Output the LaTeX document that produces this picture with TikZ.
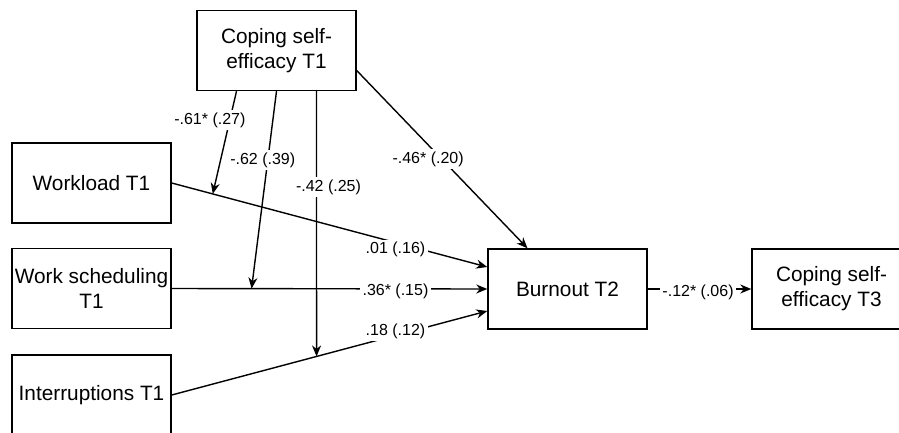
\documentclass[tikz,border=0pt]{standalone}
\usepackage{fontspec}
\setmainfont{Liberation Sans}
\usetikzlibrary{arrows.meta}
\tikzset{>={Stealth[length=11pt, width=9pt, inset=3.5pt]}}
\tikzset{
    box/.style={draw, line width=1.4pt, minimum width=159pt, minimum height=80pt, inner sep=1pt, align=center, font=\fontsize{20.8}{25}\selectfont},
    coef/.style={fill=white, inner sep=2.5pt, font=\fontsize{16}{18}\selectfont},
    link/.style={line width=1.4pt, ->}
}

\begin{document}
\begin{tikzpicture}[x=1pt, y=-1pt]
    \useasboundingbox(0, 0) rectangle (899, 432);
    \clip(0, 0) rectangle (899, 432);
    % boxes
    \node[box](cse1) at (276.5, 50.5){Coping self-\\efficacy T1};
    \node[box](workload) at (91.5, 183){Workload T1};
    \node[box](worksch) at (91.5, 288.5){Work scheduling\\T1};
    \node[box](interr) at (91.5, 395){Interruptions T1};
    \node[box](burnout) at (567.5, 289){Burnout T2};
    \node[box](cse3) at (831.5, 289){Coping self-\\efficacy T3};
    % main effects
    \draw[link](workload.east)-- node[coef, pos=.709, yshift=-7pt]{.01 (.16)} coordinate[pos=.13](m1) ([yshift=22pt]burnout.west);
    \draw[link](worksch.east)-- node[coef, pos=.709, yshift=-2pt]{.36* (.15)} coordinate[pos=.253](m2) (burnout.west);
    \draw[link](interr.east)-- node[coef, pos=.709, yshift=4pt]{.18 (.12)} coordinate[pos=.459](m3) ([yshift=-22pt]burnout.west);
    \draw[link]([yshift=-20pt]cse1.east)-- node[coef, pos=.5, xshift=-14pt]{-.46* (.20)} ([xshift=-40pt]burnout.north);
    \draw[link](burnout.east)-- node[coef, pos=.486, yshift=-3pt]{-.12* (.06)} (cse3.west);
    % moderation
    \draw[link]([xshift=-40pt]cse1.south)-- node[coef, pos=.28, xshift=-20pt]{-.61* (.27)} (m1);
    \draw[link](cse1.south)-- node[coef, pos=.35, xshift=-5pt]{-.62 (.39)} (m2);
    \draw[link]([xshift=40pt]cse1.south)-- node[coef, pos=.362, xshift=12pt]{-.42 (.25)} (m3);
\end{tikzpicture}
\end{document}
